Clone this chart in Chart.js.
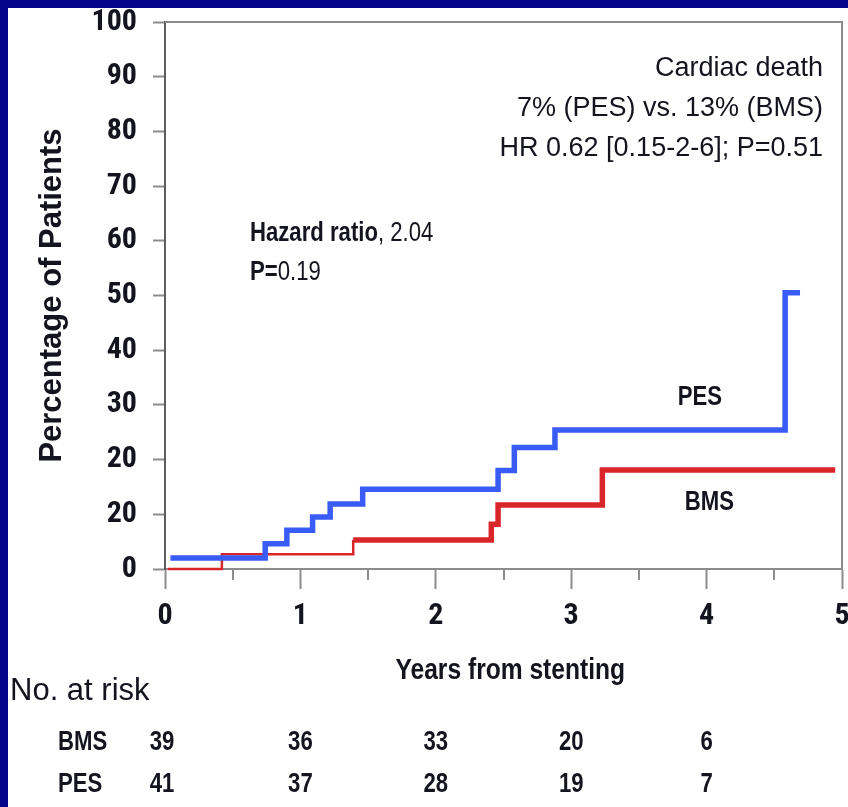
<!DOCTYPE html>
<html>
<head>
<meta charset="utf-8">
<title>Cardiac death – Kaplan-Meier</title>
<script src="https://cdn.jsdelivr.net/npm/chart.js@4/dist/chart.umd.min.js"></script>
<style>
  html, body { margin: 0; padding: 0; background: #fff; }
  #frame {
    position: absolute; left: 0; top: 0;
    width: 848px; height: 807px; box-sizing: border-box;
    border-left: 8px solid #05058c; border-top: 8px solid #05058c;
    background: #fff;
  }
  canvas { display: block; }
</style>
</head>
<body>
<div id="frame"><canvas id="km" width="840" height="799" style="width:840px;height:799px"></canvas></div>
<script>
// Kaplan-Meier steps: [years from stenting, cumulative %]
const pesTimes  = [0.04, 0.74, 0.90, 1.09, 1.22, 1.46, 2.46, 2.58, 2.88, 4.58, 4.69];
const pesValues = [2.0,  4.6,  7.1,  9.5,  11.9, 14.6, 18.0, 22.2, 25.4, 50.5, 50.5];
const bmsTimes  = [0.02, 0.42, 1.39, 2.41, 2.46, 3.23, 4.95];
const bmsValues = [0.0,  2.7,  5.3,  8.2,  11.7, 18.1, 18.1];

// y-axis tick labels as printed on the axis (0..100 by 10)
const yTickLabels = ['0', '20', '20', '30', '40', '50', '60', '70', '80', '90', '100'];
const xTickLabels = ['0', '1', '2', '3', '4', '5'];

// number at risk at each year mark
const riskYears = [0, 1, 2, 3, 4];
const riskBMS = [39, 36, 33, 20, 6];
const riskPES = [41, 37, 28, 19, 7];

const annotationLines = ['Cardiac death', '7% (PES) vs. 13% (BMS)', 'HR 0.62 [0.15-2-6]; P=0.51'];

const SANS = "'Liberation Sans', Arial, sans-serif";
const INK = '#14141f';
const BLUE = '#3a5cf6';
const RED = '#d8262b';
const NARROW_X = 0.82;   // horizontal squeeze that turns Arial metrics into Arial Narrow metrics

// pick the narrowest installed sans family for the axis tick labels
function hasFont(name) {
  const c = document.createElement('canvas').getContext('2d');
  const s = 'abcdefghijklmnopqrstuvwxyz0123456789';
  c.font = '40px monospace';
  const w0 = c.measureText(s).width;
  c.font = "40px '" + name + "', monospace";
  return Math.abs(c.measureText(s).width - w0) > 1;
}
const tickChoices = [
  ['Liberation Sans Narrow', 32], ['Arial Narrow', 32], ['Roboto Condensed', 30],
  ['Open Sans Condensed', 29], ['DejaVu Sans Condensed', 27]
];
const tickPick = tickChoices.find(([f]) => hasFont(f)) || ['Liberation Sans', 28];
const TICK_FONT = { family: "'" + tickPick[0] + "', sans-serif", size: tickPick[1], weight: 'bold', lineHeight: 1 };

const toPoints = (xs, ys) => xs.map((x, i) => ({ x, y: ys[i] }));

// draw text with Arial Narrow proportions (horizontally squeezed Liberation Sans)
function narrowText(ctx, text, x, y, size, weight, align) {
  ctx.save();
  ctx.font = (weight || 'normal') + ' ' + size + 'px ' + SANS;
  ctx.textAlign = align || 'left';
  ctx.textBaseline = 'middle';
  ctx.translate(x, y);
  ctx.scale(NARROW_X, 1);
  ctx.fillText(text, 0, 0);
  const w = ctx.measureText(text).width * NARROW_X;
  ctx.restore();
  return w;
}

// extra drawing: frame, half-year ticks, text labels and risk table
const extras = {
  id: 'extras',
  beforeDatasetsDraw(chart) {
    const { ctx, chartArea: a, scales: { x } } = chart;
    ctx.save();
    ctx.strokeStyle = '#8c8c8c';
    ctx.lineWidth = 2;
    ctx.beginPath();
    ctx.moveTo(a.left, a.top);
    ctx.lineTo(a.right, a.top);
    ctx.lineTo(a.right, a.bottom);
    ctx.stroke();
    // half-year minor ticks
    ctx.beginPath();
    for (let v = 0.5; v < 5; v += 1) {
      const px = Math.round(x.getPixelForValue(v));
      ctx.moveTo(px, a.bottom);
      ctx.lineTo(px, a.bottom + 11);
    }
    ctx.stroke();
    ctx.restore();
  },
  afterDraw(chart) {
    const { ctx, scales: { x, y } } = chart;
    ctx.save();
    ctx.fillStyle = INK;
    ctx.textBaseline = 'middle';

    // summary box, top right
    ctx.textAlign = 'right';
    ctx.font = '27px ' + SANS;
    annotationLines.forEach((t, i) => ctx.fillText(t, 815, 61 + i * 40));

    // hazard ratio note
    let w = narrowText(ctx, 'Hazard ratio', 242, 226, 27, 'bold');
    narrowText(ctx, ', 2.04', 242 + w, 226, 27, 'normal');
    w = narrowText(ctx, 'P=', 242, 265, 27, 'bold');
    narrowText(ctx, '0.19', 242 + w, 265, 27, 'normal');

    // curve labels
    narrowText(ctx, 'PES', x.getPixelForValue(3.95), y.getPixelForValue(31.4), 27, 'bold', 'center');
    narrowText(ctx, 'BMS', x.getPixelForValue(4.02), y.getPixelForValue(12.1), 27, 'bold', 'center');

    // x-axis title
    narrowText(ctx, 'Years from stenting', x.getPixelForValue(2.55), 663, 30, 'bold', 'center');

    // number-at-risk table
    ctx.font = '31px ' + SANS;
    ctx.textAlign = 'left';
    ctx.fillText('No. at risk', 2, 683);
    narrowText(ctx, 'BMS', 50, 735, 27, 'bold');
    narrowText(ctx, 'PES', 50, 777, 27, 'bold');
    riskYears.forEach((yr, i) => {
      const px = x.getPixelForValue(yr);
      narrowText(ctx, String(riskBMS[i]), px - (i === 0 ? 3 : 0), 735, 27, 'bold', 'center');
      narrowText(ctx, String(riskPES[i]), px - (i === 0 ? 3 : 0), 777, 27, 'bold', 'center');
    });
    ctx.restore();
  }
};

new Chart(document.getElementById('km'), {
  type: 'line',
  data: {
    datasets: [
      {
        label: 'PES',
        data: toPoints(pesTimes, pesValues),
        borderColor: BLUE,
        borderWidth: 5.5,
        stepped: 'before',
        pointRadius: 0,
        fill: false,
        clip: 8
      },
      {
        label: 'BMS',
        data: toPoints(bmsTimes, bmsValues),
        borderColor: RED,
        borderWidth: 5.5,
        stepped: 'before',
        pointRadius: 0,
        fill: false,
        clip: 8,
        segment: {
          borderWidth: ctx => (ctx.p1.parsed.x <= 1.39 ? 2.5 : 5.5)
        }
      }
    ]
  },
  options: {
    responsive: false,
    animation: false,
    devicePixelRatio: 1,
    layout: { padding: { left: 0, top: 14, right: 6, bottom: 0 } },
    plugins: { legend: { display: false }, tooltip: { enabled: false }, title: { display: false } },
    scales: {
      x: {
        type: 'linear',
        min: 0, max: 5,
        afterFit(scale) { scale.height = 238; scale.paddingLeft = 0; scale.paddingRight = 0; },
        afterBuildTicks(scale) { scale.ticks = xTickLabels.map((_, i) => ({ value: i })); },
        grid: { drawOnChartArea: false, tickLength: 20, tickWidth: 2, tickColor: '#8c8c8c' },
        border: { display: true, color: '#8c8c8c', width: 2 },
        ticks: {
          padding: 12,
          color: INK,
          font: TICK_FONT,
          callback: (v) => xTickLabels[Math.round(v)]
        }
      },
      y: {
        type: 'linear',
        min: 0, max: 100,
        afterFit(scale) { scale.width = 157; scale.paddingTop = 0; scale.paddingBottom = 0; },
        afterBuildTicks(scale) { scale.ticks = yTickLabels.map((_, i) => ({ value: i * 10 })); },
        grid: { drawOnChartArea: false, tickLength: 12, tickWidth: 2, tickColor: '#8c8c8c' },
        border: { display: true, color: '#5e5e5e', width: 2 },
        ticks: {
          padding: 16,
          color: INK,
          font: TICK_FONT,
          callback: (v) => yTickLabels[Math.round(v / 10)]
        },
        title: {
          display: true,
          text: 'Percentage of Patients',
          color: INK,
          font: { family: SANS, size: 31, weight: 'bold', lineHeight: 1.2 },
          padding: { top: 26, bottom: 0 }
        }
      }
    }
  },
  plugins: [extras]
});
</script>
</body>
</html>
